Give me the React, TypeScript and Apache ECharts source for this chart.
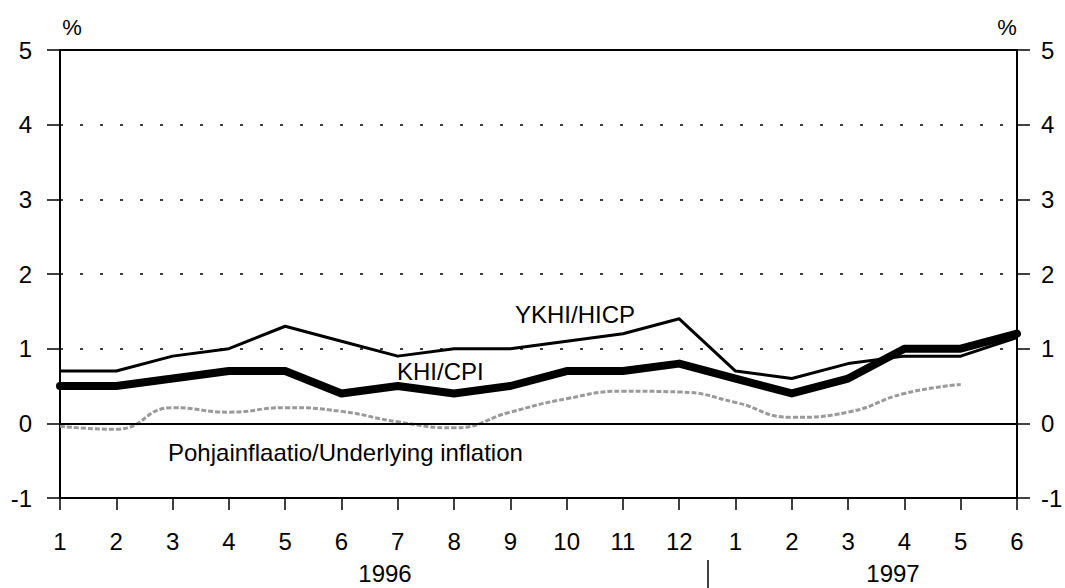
import React, { useEffect, useRef } from "react";
import * as echarts from "echarts";

const months = ["1", "2", "3", "4", "5", "6", "7", "8", "9", "10", "11", "12", "1", "2", "3", "4", "5", "6"];
const years = ["1996", "1997"];
const hicp = [0.7, 0.7, 0.9, 1.0, 1.3, 1.1, 0.9, 1.0, 1.0, 1.1, 1.2, 1.4, 0.7, 0.6, 0.8, 0.9, 0.9, 1.15];
const cpi = [0.5, 0.5, 0.6, 0.7, 0.7, 0.4, 0.5, 0.4, 0.5, 0.7, 0.7, 0.8, 0.6, 0.4, 0.6, 1.0, 1.0, 1.2];
const underlying = [-0.04, -0.08, 0.21, 0.15, 0.21, 0.16, 0.02, -0.06, 0.15, 0.33, 0.43, 0.42, 0.28, 0.08, 0.15, 0.4, 0.52, null];
const yMin = -1;
const yMax = 5;

const FONT = "'Liberation Sans', Arial, sans-serif";

export default function App() {
  const ref = useRef<HTMLDivElement>(null);
  useEffect(() => {
    document.body.style.margin = "0";
    if (!ref.current) return;
    const chart = echarts.init(ref.current, undefined, { renderer: "svg" });
    const yAxisCommon = {
      type: "value" as const,
      min: yMin,
      max: yMax,
      interval: 1,
      axisLine: { show: true, lineStyle: { color: "#000", width: 2 } },
      axisTick: { show: true, length: 13, lineStyle: { color: "#000", width: 1.5 } },
      axisLabel: { color: "#000", fontSize: 24, fontFamily: FONT },
    };
    chart.setOption({
      animation: false,
      backgroundColor: "#fff",
      textStyle: { fontFamily: FONT },
      grid: {
        left: 60, right: 48, top: 50, bottom: 90,
        outerBoundsMode: "none",
        containLabel: false,
        show: true, borderColor: "#000", borderWidth: 2, backgroundColor: "transparent",
      },
      xAxis: {
        type: "category",
        data: months,
        boundaryGap: false,
        axisLine: { show: true, onZero: false, lineStyle: { color: "#000", width: 2 } },
        axisTick: { show: true, length: 12, alignWithLabel: true, lineStyle: { color: "#000", width: 1.5 } },
        axisLabel: { color: "#000", fontSize: 24, fontFamily: FONT, margin: 31, interval: 0 },
        splitLine: { show: false },
      },
      yAxis: [
        {
          ...yAxisCommon,
          position: "left",
          axisLabel: { ...yAxisCommon.axisLabel, margin: 28 },
          splitLine: { show: true, lineStyle: { color: "#000", width: 1.5, type: [3, 17] } },
        },
        {
          ...yAxisCommon,
          position: "right",
          axisLabel: { ...yAxisCommon.axisLabel, margin: 24 },
          splitLine: { show: false },
        },
      ],
      series: [
        {
          name: "Pohjainflaatio/Underlying inflation",
          type: "line",
          data: underlying,
          smooth: 0.5,
          showSymbol: false,
          symbol: "none",
          lineStyle: { color: "#9a9a9a", width: 3, type: [5, 2] },
          markLine: {
            silent: true,
            symbol: "none",
            label: { show: false },
            lineStyle: { color: "#000", width: 2, type: "solid" },
            data: [{ yAxis: 0 }],
          },
          z: 2,
        },
        {
          name: "KHI/CPI",
          type: "line",
          data: cpi,
          showSymbol: false,
          symbol: "none",
          lineStyle: { color: "#000", width: 8, cap: "round", join: "round" },
          z: 3,
        },
        {
          name: "YKHI/HICP",
          type: "line",
          data: hicp,
          showSymbol: false,
          symbol: "none",
          lineStyle: { color: "#000", width: 3, join: "round" },
          z: 4,
        },
      ],
      graphic: [
        { type: "text", x: 72, y: 27, style: { text: "%", fontSize: 22, fontFamily: FONT, fill: "#000", align: "center", verticalAlign: "middle" } },
        { type: "text", x: 1007, y: 27, style: { text: "%", fontSize: 22, fontFamily: FONT, fill: "#000", align: "center", verticalAlign: "middle" } },
        { type: "text", x: 515, y: 314, style: { text: "YKHI/HICP", fontSize: 24, fontFamily: FONT, fill: "#000", align: "left", verticalAlign: "middle" } },
        { type: "text", x: 397, y: 371, style: { text: "KHI/CPI", fontSize: 24, fontFamily: FONT, fill: "#000", align: "left", verticalAlign: "middle" } },
        { type: "text", x: 168, y: 452, style: { text: "Pohjainflaatio/Underlying inflation", fontSize: 24, fontFamily: FONT, fill: "#000", align: "left", verticalAlign: "middle" } },
        { type: "text", x: 385, y: 573, style: { text: years[0], fontSize: 24, fontFamily: FONT, fill: "#000", align: "center", verticalAlign: "middle" } },
        { type: "text", x: 893, y: 573, style: { text: years[1], fontSize: 24, fontFamily: FONT, fill: "#000", align: "center", verticalAlign: "middle" } },
        { type: "line", shape: { x1: 708, y1: 560, x2: 708, y2: 588 }, style: { stroke: "#000", lineWidth: 1.5 } },
      ],
    });
    return () => chart.dispose();
  }, []);
  return <div ref={ref} style={{ width: 1065, height: 588 }} />;
}
